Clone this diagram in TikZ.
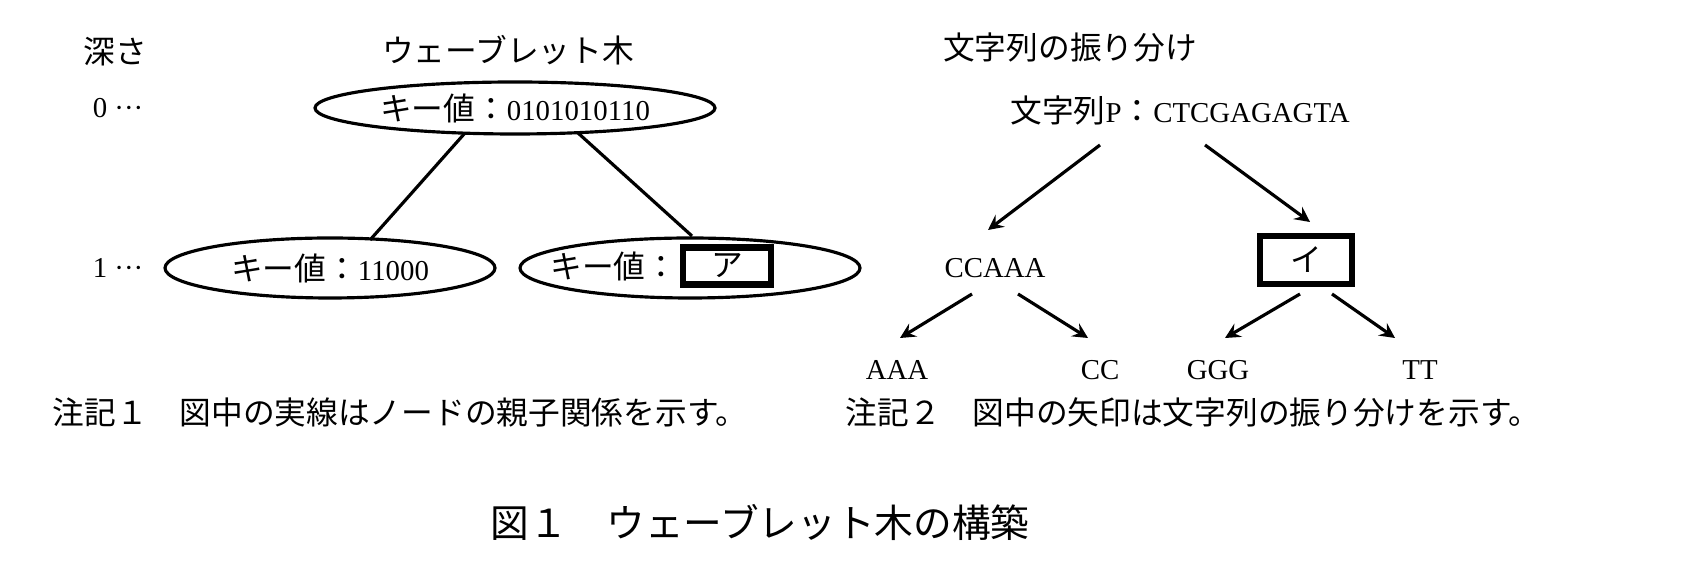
\documentclass[tikz,border=0pt]{standalone}
\usepackage{fontspec}
\setmainfont{Liberation Serif}
\newfontfamily\cjk[Scale=1.1]{Noto Sans CJK JP}
\begin{document}
\begin{tikzpicture}[x=0.01cm,y=-0.01cm,
  t/.style={inner sep=0pt,font=\fontsize{8.2}{10}\selectfont},
  ln/.style={line width=0.9pt},
  ar/.style={line width=0.9pt,->,>=stealth}]
\useasboundingbox (0,0) rectangle (1704,574);
\node[t] (d) at (115,52) {\cjk 深さ};
\node[t] (d0) at (118,108) {0 ···};
\node[t] (d1) at (118,268) {1 ···};
\node[t] (wt) at (508,50) {\cjk ウェーブレット木};
\draw[ln] (515,108) ellipse (200 and 26);
\node[t] (k0) at (515,108) {{\cjk キー値：}0101010110};
\draw[ln] (330,268) ellipse (165 and 30);
\node[t] (k1) at (330,268) {{\cjk キー値：}11000};
\draw[ln] (690,268) ellipse (170 and 30);
\node[t,anchor=east] (k2) at (678,266) {\cjk キー値：};
\node[draw,line width=1.8pt,minimum width=88*0.2845pt,minimum height=37*0.2845pt,t] (a) at (727,266) {\cjk ア};
\coordinate (r0a) at (465,133); \coordinate (r1a) at (370,240);
\coordinate (r0b) at (578,133); \coordinate (r1b) at (692,236);
\draw[ln] (r0a) -- (r1a);
\draw[ln] (r0b) -- (r1b);
\node[t] (fw) at (1070,48) {\cjk 文字列の振り分け};
\node[t] (p) at (1180,110) {{\cjk 文字列}P{\cjk ：}CTCGAGAGTA};
\node[t] (c1) at (995,268) {CCAAA};
\node[draw,line width=1.8pt,minimum width=92*0.2845pt,minimum height=48*0.2845pt,t] (i) at (1306,260) {\cjk イ};
\node[t] (aaa) at (897,370) {AAA};
\node[t] (cc) at (1100,370) {CC};
\node[t] (ggg) at (1218,370) {GGG};
\node[t] (tt) at (1420,370) {TT};
\coordinate (p1) at (1100,145); \coordinate (p2) at (1205,145);
\coordinate (q1) at (988,230); \coordinate (q2) at (1310,222);
\draw[ar] (p1) -- (q1);
\draw[ar] (p2) -- (q2);
\coordinate (s1) at (972,294); \coordinate (s2) at (1018,294);
\coordinate (s3) at (1300,294); \coordinate (s4) at (1332,294);
\coordinate (e1) at (900,338); \coordinate (e2) at (1088,338);
\coordinate (e3) at (1225,338); \coordinate (e4) at (1395,338);
\draw[ar] (s1) -- (e1); \draw[ar] (s2) -- (e2);
\draw[ar] (s3) -- (e3); \draw[ar] (s4) -- (e4);
\node[t,anchor=west] (n1) at (52,412) {\cjk 注記１　図中の実線はノードの親子関係を示す。};
\node[t,anchor=west] (n2) at (845,412) {\cjk 注記２　図中の矢印は文字列の振り分けを示す。};
\node[t,font=\fontsize{10}{12}\selectfont] (cap) at (760,522) {\cjk 図１　ウェーブレット木の構築};
\end{tikzpicture}
\end{document}
